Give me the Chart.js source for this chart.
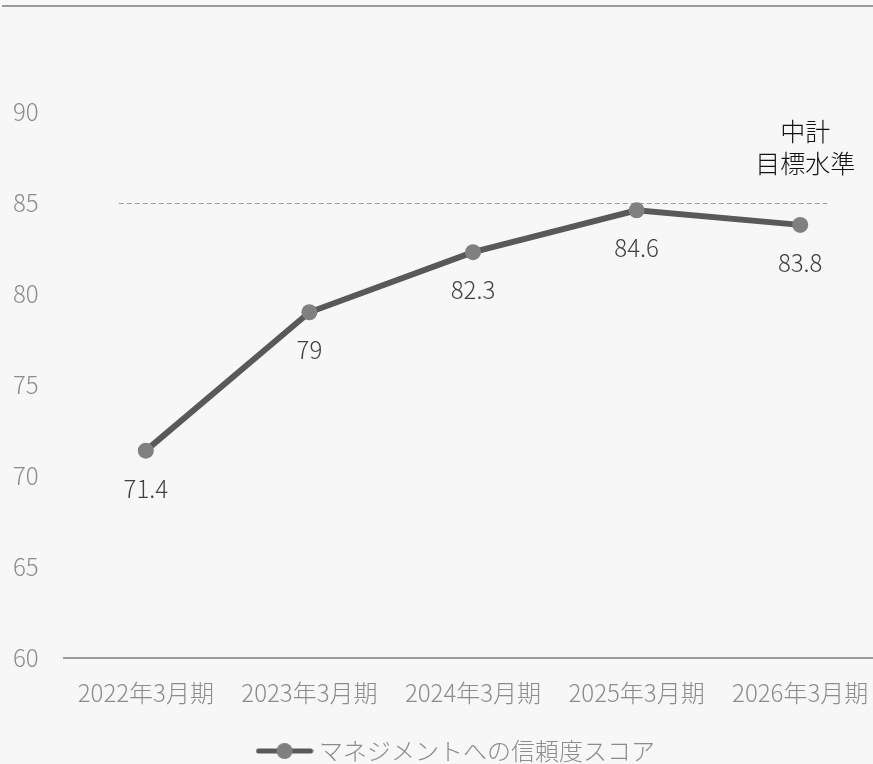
<!DOCTYPE html>
<html lang="ja">
<head>
<meta charset="utf-8">
<title>マネジメントへの信頼度スコア</title>
<script src="https://cdn.jsdelivr.net/npm/chart.js@4/dist/chart.umd.min.js"></script>
<style>
  html, body { margin: 0; padding: 0; background: #f7f7f7; }
  #wrap { position: relative; width: 873px; height: 764px; overflow: hidden; }
  canvas { display: block; }
</style>
</head>
<body>
<div id="wrap">
  <canvas id="myChart" width="890" height="764"></canvas>
</div>
<script>
// data
const categories = ['2022年3月期', '2023年3月期', '2024年3月期', '2025年3月期', '2026年3月期'];
const scores = [71.4, 79, 82.3, 84.6, 83.8];
const seriesName = 'マネジメントへの信頼度スコア';
const targetLevel = 85;
const targetLabel = ['中計', '目標水準'];
const yMin = 60, yMax = 90, yStep = 5;

const FONT = "'Noto Sans CJK JP', 'Noto Sans', sans-serif";
const LINE_COLOR = '#595959';
const POINT_COLOR = '#808080';

// legend icon: line with a dot in the middle
function legendIcon() {
    const c = document.createElement('canvas');
    c.width = 58; c.height = 18;
    const g = c.getContext('2d');
    g.strokeStyle = LINE_COLOR;
    g.lineWidth = 5;
    g.lineCap = 'round';
    g.beginPath();
    g.moveTo(3, 9); g.lineTo(55, 9);
    g.stroke();
    g.fillStyle = POINT_COLOR;
    g.beginPath();
    g.arc(29, 9, 8, 0, Math.PI * 2);
    g.fill();
    return c;
}

// background, top rule, target dashed line + caption, value labels
const decorations = {
    id: 'decorations',
    beforeDraw(chart) {
        const ctx = chart.ctx;
        ctx.save();
        ctx.fillStyle = '#f7f7f7';
        ctx.fillRect(0, 0, chart.width, chart.height);
        ctx.strokeStyle = '#9a9a9a';
        ctx.lineWidth = 2;
        ctx.beginPath();
        ctx.moveTo(2, 6); ctx.lineTo(chart.width, 6);
        ctx.stroke();
        ctx.restore();
    },
    beforeDatasetsDraw(chart) {
        const ctx = chart.ctx;
        const x = chart.scales.x, y = chart.scales.y;
        const yT = y.getPixelForValue(targetLevel);
        const x0 = x.getPixelForValue(0) - 27;
        const x1 = x.getPixelForValue(categories.length - 1) + 27;
        ctx.save();
        ctx.strokeStyle = '#9a9a9a';
        ctx.lineWidth = 1;
        ctx.setLineDash([5, 3]);
        ctx.beginPath();
        ctx.moveTo(x0, yT + 0.5); ctx.lineTo(x1, yT + 0.5);
        ctx.stroke();
        ctx.setLineDash([]);
        ctx.fillStyle = '#111';
        ctx.font = '300 25px ' + FONT;
        ctx.textAlign = 'center';
        ctx.textBaseline = 'middle';
        const xc = x.getPixelForValue(categories.length - 1) + 5;
        ctx.fillText(targetLabel[0], xc, yT - 72);
        ctx.fillText(targetLabel[1], xc, yT - 40);
        ctx.restore();
    },
    afterDatasetsDraw(chart) {
        const ctx = chart.ctx;
        const meta = chart.getDatasetMeta(0);
        ctx.save();
        ctx.fillStyle = '#404040';
        ctx.font = '300 24px ' + FONT;
        ctx.textAlign = 'center';
        ctx.textBaseline = 'middle';
        meta.data.forEach((pt, i) => {
            ctx.fillText(String(scores[i]), pt.x, pt.y + 38);
        });
        ctx.restore();
    }
};

const ctx = document.getElementById('myChart').getContext('2d');
const chart = new Chart(ctx, {
    type: 'line',
    data: {
        labels: categories,
        datasets: [{
            label: seriesName,
            data: scores,
            borderColor: LINE_COLOR,
            borderWidth: 6,
            pointRadius: 8,
            pointHoverRadius: 8,
            pointBackgroundColor: POINT_COLOR,
            pointBorderColor: POINT_COLOR,
            pointBorderWidth: 0,
            tension: 0,
            fill: false
        }]
    },
    options: {
        responsive: false,
        animation: false,
        layout: { padding: { top: 112, left: 27, right: 0, bottom: -9 } },
        scales: {
            x: {
                offset: true,
                grid: { display: false, drawTicks: false, offset: true },
                border: { display: true, color: '#9a9a9a', width: 2 },
                ticks: { color: '#8c8c8c', font: { family: FONT, size: 24, weight: 300 }, padding: 20, maxRotation: 0, autoSkip: false },
                afterFit(scale) {
                    scale.height += 2;
                }
            },
            y: {
                min: yMin,
                max: yMax,
                grid: { display: false, drawTicks: false },
                border: { display: false },
                // labels sit left-aligned at x=13, outside the plot
                ticks: { stepSize: yStep, color: '#8c8c8c', font: { family: FONT, size: 24, weight: 300 }, mirror: true, padding: -51 },
                afterFit(scale) {
                    scale.width = 37;
                }
            }
        },
        plugins: {
            legend: {
                position: 'bottom',
                labels: {
                    usePointStyle: true,
                    pointStyle: legendIcon(),
                    pointStyleWidth: 45,
                    color: '#8c8c8c',
                    font: { family: FONT, size: 24, weight: 300 },
                    padding: 10
                }
            },
            tooltip: { enabled: false }
        }
    },
    plugins: [decorations]
});
</script>
</body>
</html>
